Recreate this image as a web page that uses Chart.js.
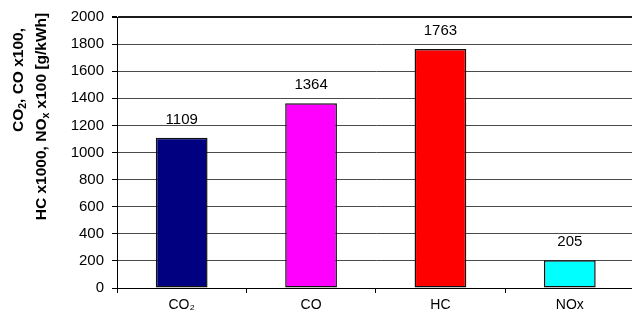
<!DOCTYPE html>
<html>
<head>
<meta charset="utf-8">
<script src="https://cdn.jsdelivr.net/npm/chart.js@4/dist/chart.umd.min.js"></script>
<style>
  html, body { margin: 0; padding: 0; overflow: hidden; background: #fff; }
  #wrap { width: 632px; height: 321px; overflow: hidden; position: relative; }
  canvas { display: block; }
</style>
</head>
<body>
<div id="wrap"><canvas id="chart" width="640" height="321"></canvas></div>
<script>
// Emission values per component (CO2, CO x100, HC x1000, NOx x100) in g/kWh
const categories = ['CO\u2082', 'CO', 'HC', 'NOx'];
const emissionValues = [1109, 1364, 1763, 205];
const yMin = 0;
const yMax = 2000;
const yStep = 200;

// Axis title lines; each part may be a subscript
const yTitleLines = [
  [{ t: 'CO' }, { t: '2', sub: true }, { t: ', CO x100,' }],
  [{ t: 'HC x1000, NO' }, { t: 'x', sub: true }, { t: ' x100 [g/kWh]' }]
];

const FONT = '"Liberation Sans", Arial, Helvetica, sans-serif';

// Value labels above each bar
const valueLabels = {
  id: 'valueLabels',
  afterDatasetsDraw(chart) {
    const ctx = chart.ctx;
    const meta = chart.getDatasetMeta(0);
    ctx.save();
    ctx.font = '15px ' + FONT;
    ctx.fillStyle = '#000';
    ctx.textAlign = 'center';
    ctx.textBaseline = 'alphabetic';
    meta.data.forEach((bar, i) => {
      ctx.fillText(String(emissionValues[i]), bar.x, bar.y - 14);
    });
    ctx.restore();
  }
};

// Rotated two-line y axis title with subscripts
const yAxisTitle = {
  id: 'yAxisTitle',
  afterDraw(chart) {
    const ctx = chart.ctx;
    const size = 15.5;
    const subSize = 10.5;
    const placements = [
      { baseX: 22.5, centerY: 80 },
      { baseX: 45.5, centerY: 116.5 }
    ];
    ctx.save();
    ctx.fillStyle = '#000';
    ctx.textBaseline = 'alphabetic';
    ctx.textAlign = 'left';
    yTitleLines.forEach((parts, li) => {
      const p = placements[li];
      let total = 0;
      parts.forEach(part => {
        ctx.font = 'bold ' + (part.sub ? subSize : size) + 'px ' + FONT;
        total += ctx.measureText(part.t).width;
      });
      ctx.save();
      ctx.translate(p.baseX, p.centerY + total / 2);
      ctx.rotate(-Math.PI / 2);
      let x = 0;
      parts.forEach(part => {
        ctx.font = 'bold ' + (part.sub ? subSize : size) + 'px ' + FONT;
        ctx.fillText(part.t, x, part.sub ? 3.5 : 0);
        x += ctx.measureText(part.t).width;
      });
      ctx.restore();
    });
    ctx.restore();
  }
};

new Chart(document.getElementById('chart'), {
  type: 'bar',
  data: {
    labels: categories,
    datasets: [{
      data: emissionValues,
      backgroundColor: ['#000080', '#FF00FF', '#FF0000', '#00FFFF'],
      borderColor: '#111',
      borderWidth: 1.5,
      borderSkipped: false,
      categoryPercentage: 1.0,
      barPercentage: 0.4
    }]
  },
  options: {
    responsive: false,
    animation: false,
    devicePixelRatio: 1,
    layout: { padding: { top: 14, right: 5.5, bottom: 0, left: 0 } },
    plugins: {
      legend: { display: false },
      tooltip: { enabled: false }
    },
    scales: {
      x: {
        afterFit(scale) { scale.height = 33; },
        grid: {
          offset: true,
          drawOnChartArea: false,
          drawTicks: true,
          tickLength: 5,
          color: '#000',
          tickColor: '#000'
        },
        border: { color: '#000', width: 1 },
        ticks: {
          color: '#000',
          font: { family: FONT, size: 14 },
          padding: 4,
          maxRotation: 0
        }
      },
      y: {
        min: yMin,
        max: yMax,
        afterFit(scale) { scale.width = 117; },
        grid: {
          drawTicks: true,
          tickLength: 5,
          tickColor: '#000',
          color: (c) => (c.tick && c.tick.value === yMax) ? '#1a1a1a' : '#4a4a4a',
          lineWidth: (c) => (c.tick && c.tick.value === yMax) ? 2 : 1
        },
        border: { color: '#000', width: 1 },
        ticks: {
          stepSize: yStep,
          color: '#000',
          font: { family: FONT, size: 15 },
          padding: 8,
          callback: (v) => String(v)
        }
      }
    }
  },
  plugins: [valueLabels, yAxisTitle]
});
</script>
</body>
</html>
